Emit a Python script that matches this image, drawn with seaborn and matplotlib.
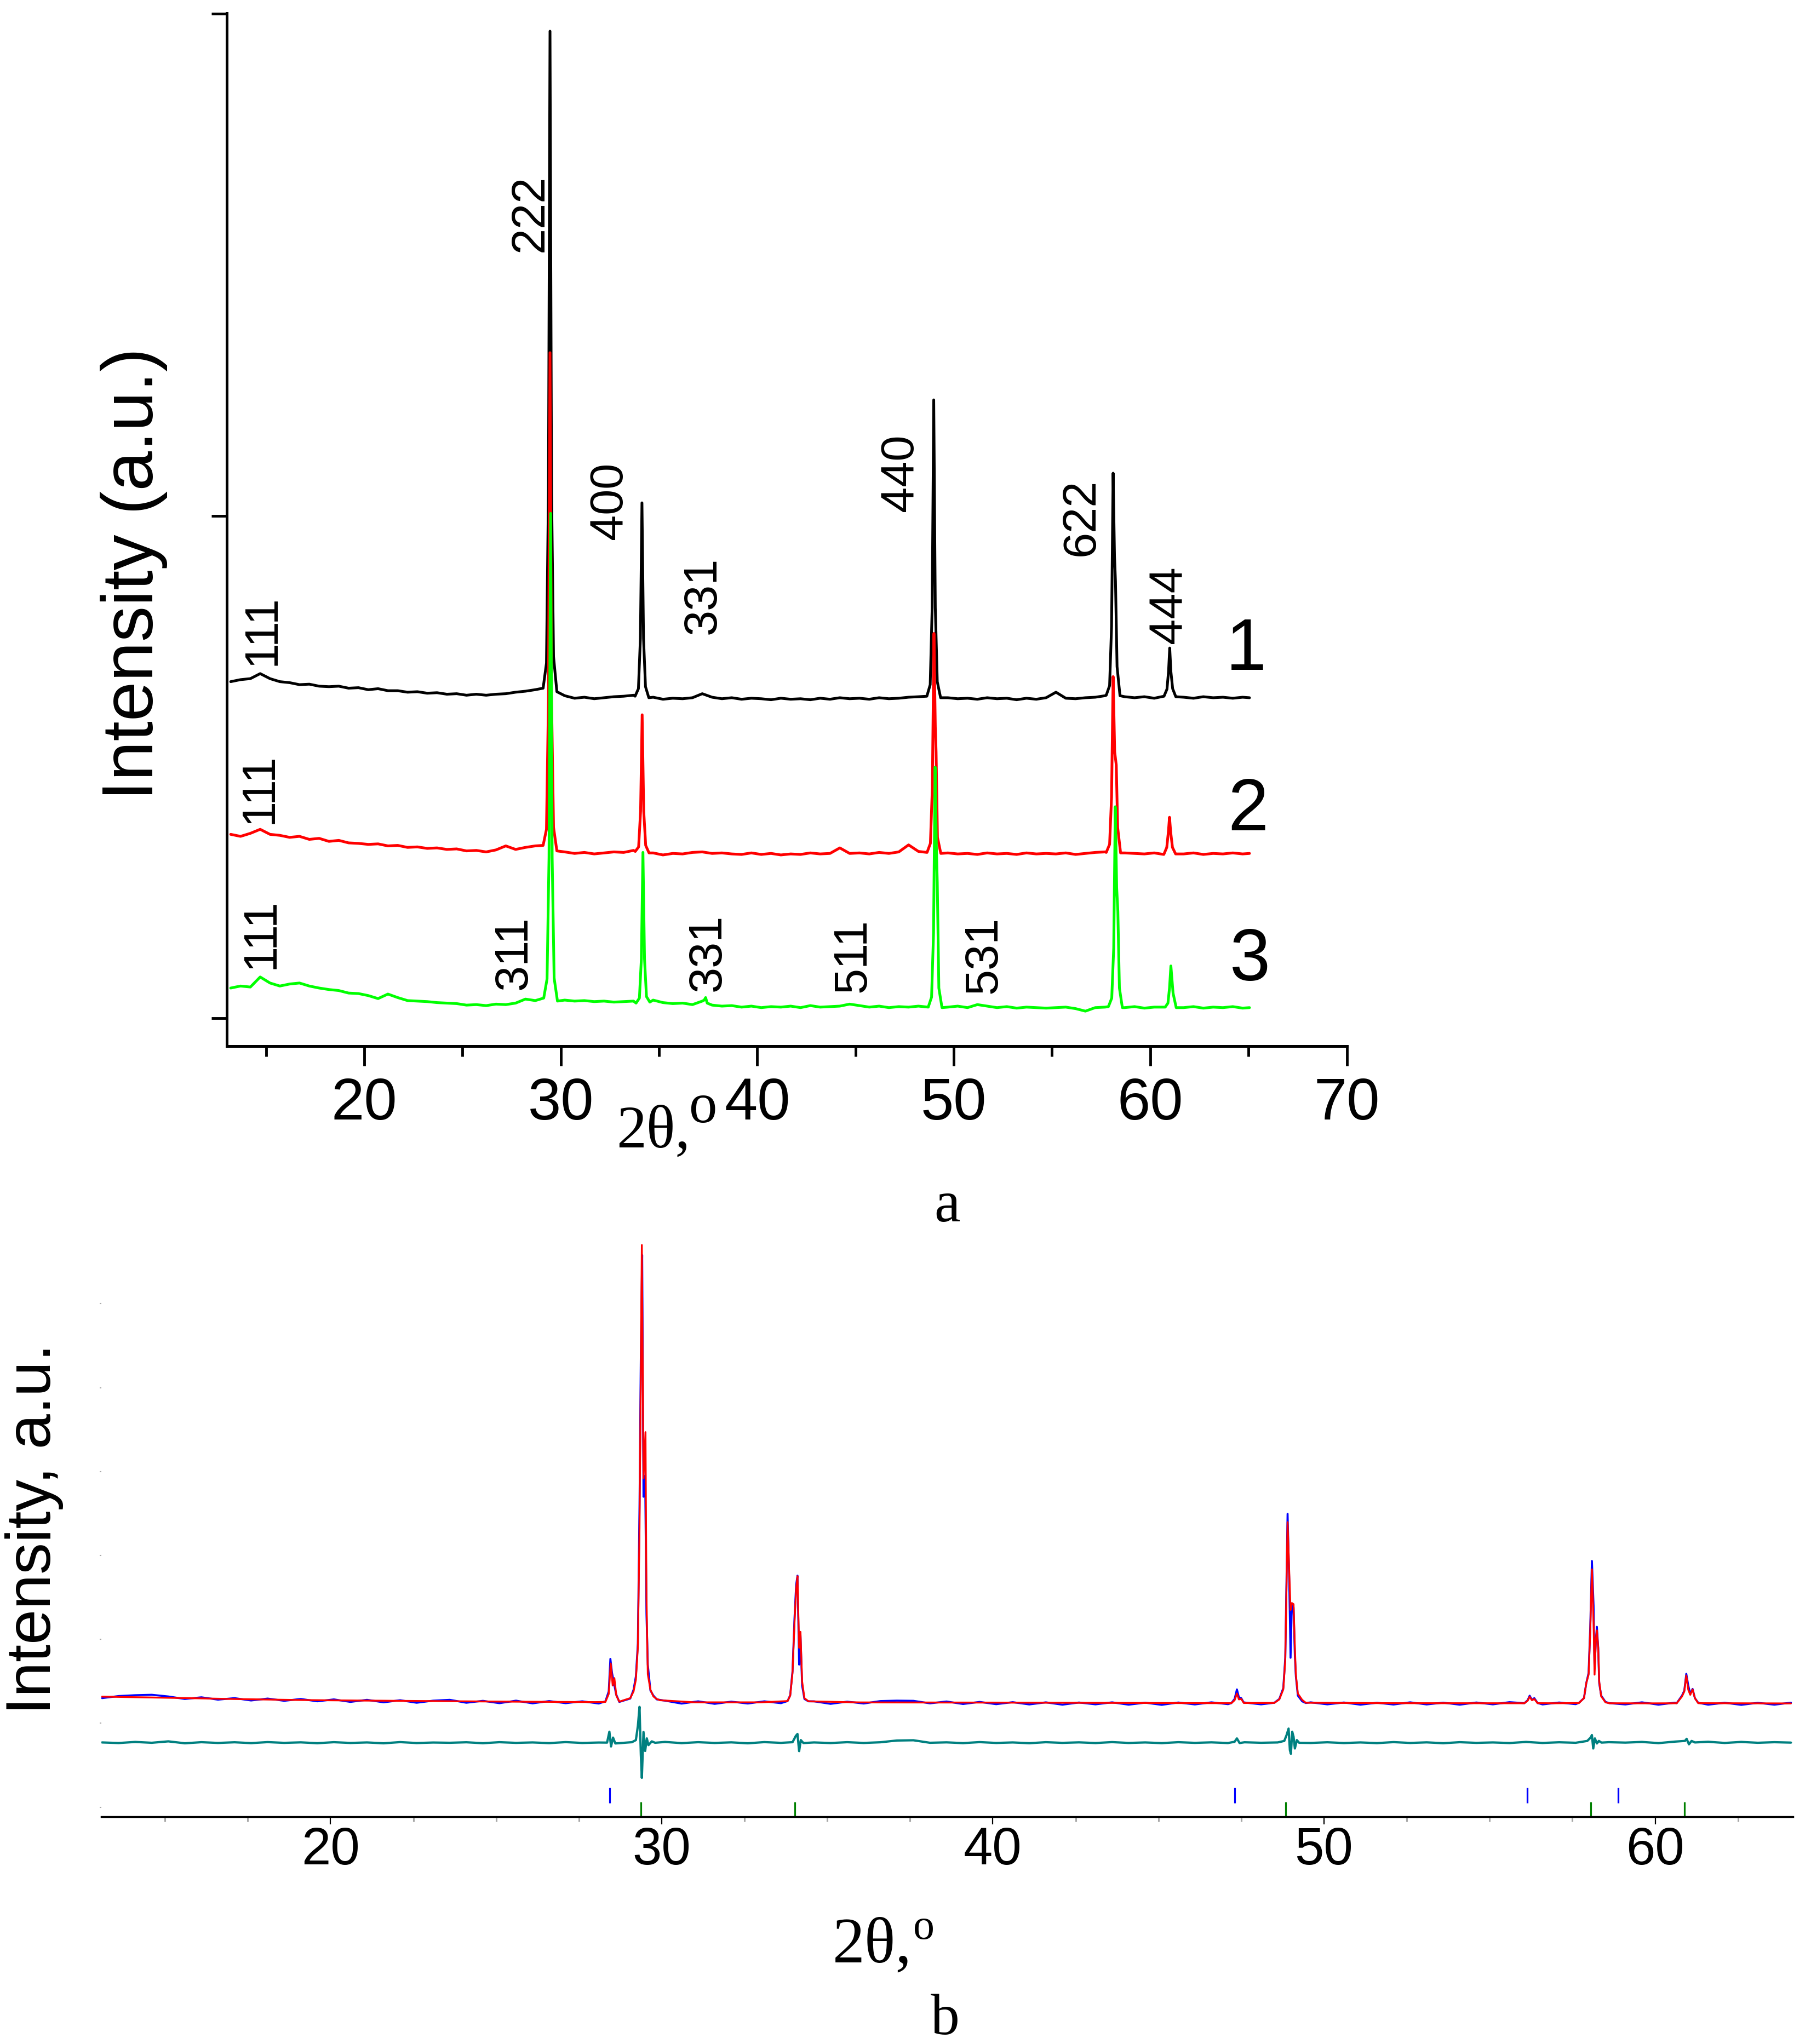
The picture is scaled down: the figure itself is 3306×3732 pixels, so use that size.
import pandas as pd
import matplotlib
matplotlib.use("Agg")
import matplotlib.pyplot as plt
import seaborn as sns

# ---------------- panel a : three stacked XRD patterns ----------------
# common baseline sampling grid (2theta, deg)
grid_a = [13.2, 13.7, 14.2, 14.7, 15.2, 15.7, 16.2, 16.7, 17.2, 17.7,
          18.2, 18.7, 19.2, 19.7, 20.2, 20.7, 21.2, 21.7, 22.2, 22.7,
          23.2, 23.7, 24.2, 24.7, 25.2, 25.7, 26.2, 26.7, 27.2, 27.7,
          28.2, 28.7, 29.2, 29.7, 30.2, 30.7, 31.2, 31.7, 32.2, 32.7,
          33.2, 33.7, 34.2, 34.7, 35.2, 35.7, 36.2, 36.7, 37.2, 37.7,
          38.2, 38.7, 39.2, 39.7, 40.2, 40.7, 41.2, 41.7, 42.2, 42.7,
          43.2, 43.7, 44.2, 44.7, 45.2, 45.7, 46.2, 46.7, 47.2, 47.7,
          48.2, 48.7, 49.2, 49.7, 50.2, 50.7, 51.2, 51.7, 52.2, 52.7,
          53.2, 53.7, 54.2, 54.7, 55.2, 55.7, 56.2, 56.7, 57.2, 57.7,
          58.2, 58.7, 59.2, 59.7, 60.2, 60.7, 61.2, 61.7, 62.2, 62.7,
          63.2, 63.7, 64.2, 64.7, 65.05]

base_1 = [0.670, 0.674, 0.676, 0.686, 0.676, 0.670, 0.668, 0.664, 0.665, 0.661,
          0.660, 0.661, 0.657, 0.658, 0.654, 0.656, 0.652, 0.652, 0.649, 0.650,
          0.647, 0.648, 0.645, 0.646, 0.643, 0.645, 0.643, 0.645, 0.646, 0.649,
          0.651, 0.654, 0.700, 0.700, 0.642, 0.637, 0.639, 0.636, 0.638, 0.640,
          0.641, 0.643, 0.700, 0.639, 0.635, 0.637, 0.636, 0.638, 0.646, 0.639,
          0.636, 0.638, 0.635, 0.637, 0.636, 0.634, 0.637, 0.635, 0.636, 0.634,
          0.637, 0.635, 0.638, 0.636, 0.637, 0.635, 0.638, 0.636, 0.637, 0.639,
          0.640, 0.700, 0.700, 0.638, 0.636, 0.637, 0.635, 0.638, 0.636, 0.637,
          0.634, 0.637, 0.635, 0.638, 0.649, 0.637, 0.636, 0.638, 0.639, 0.642,
          0.700, 0.640, 0.638, 0.640, 0.637, 0.641, 0.640, 0.639, 0.637, 0.640,
          0.638, 0.639, 0.637, 0.639, 0.638]

base_2 = [0.366, 0.362, 0.368, 0.376, 0.366, 0.364, 0.360, 0.362, 0.356, 0.358,
          0.352, 0.354, 0.349, 0.348, 0.346, 0.347, 0.343, 0.344, 0.340, 0.341,
          0.338, 0.339, 0.336, 0.337, 0.333, 0.334, 0.331, 0.335, 0.343, 0.336,
          0.340, 0.343, 0.400, 0.400, 0.331, 0.328, 0.330, 0.327, 0.329, 0.331,
          0.330, 0.334, 0.400, 0.329, 0.325, 0.328, 0.327, 0.330, 0.331, 0.328,
          0.329, 0.327, 0.326, 0.329, 0.326, 0.328, 0.325, 0.327, 0.326, 0.329,
          0.327, 0.328, 0.339, 0.328, 0.329, 0.327, 0.330, 0.328, 0.331, 0.345,
          0.332, 0.400, 0.400, 0.329, 0.327, 0.328, 0.326, 0.329, 0.327, 0.328,
          0.326, 0.329, 0.327, 0.328, 0.327, 0.329, 0.326, 0.328, 0.330, 0.331,
          0.400, 0.329, 0.328, 0.327, 0.329, 0.326, 0.328, 0.327, 0.329, 0.326,
          0.328, 0.327, 0.329, 0.327, 0.328]

base_3 = [0.060, 0.064, 0.062, 0.082, 0.070, 0.064, 0.068, 0.070, 0.064, 0.060,
          0.057, 0.055, 0.050, 0.049, 0.045, 0.039, 0.048, 0.041, 0.035, 0.034,
          0.033, 0.031, 0.030, 0.029, 0.026, 0.027, 0.025, 0.028, 0.027, 0.030,
          0.038, 0.035, 0.100, 0.100, 0.036, 0.034, 0.035, 0.033, 0.034, 0.032,
          0.033, 0.034, 0.100, 0.036, 0.031, 0.029, 0.030, 0.027, 0.034, 0.026,
          0.024, 0.025, 0.022, 0.024, 0.021, 0.023, 0.022, 0.024, 0.021, 0.025,
          0.022, 0.023, 0.024, 0.028, 0.025, 0.022, 0.024, 0.021, 0.023, 0.022,
          0.024, 0.100, 0.100, 0.022, 0.024, 0.021, 0.027, 0.024, 0.021, 0.023,
          0.020, 0.022, 0.021, 0.020, 0.021, 0.022, 0.019, 0.014, 0.021, 0.022,
          0.100, 0.021, 0.023, 0.020, 0.022, 0.022, 0.022, 0.021, 0.023, 0.020,
          0.022, 0.021, 0.023, 0.020, 0.021]

# reflections, (2theta, intensity) points read across each peak
peaks_1 = [
    [(29.10, 0.657), (29.27, 0.707), (29.37, 1.048), (29.45, 1.965), (29.53, 1.048), (29.63, 0.720), (29.80, 0.650)],
    [(33.78, 0.641), (33.95, 0.656), (34.05, 0.756), (34.13, 1.026), (34.21, 0.756), (34.31, 0.660), (34.48, 0.638)],
    [(48.63, 0.641), (48.80, 0.664), (48.90, 0.817), (48.98, 1.231), (49.06, 0.817), (49.16, 0.670), (49.33, 0.638)],
    [(57.76, 0.643), (57.93, 0.662), (58.03, 0.780), (58.11, 1.085), (58.18, 0.920), (58.23, 0.870), (58.31, 0.700), (58.46, 0.642)],
    [(60.70, 0.641), (60.85, 0.655), (60.93, 0.690), (60.99, 0.737), (61.05, 0.690), (61.14, 0.656), (61.30, 0.640)],
]
peaks_2 = [
    [(29.10, 0.344), (29.27, 0.376), (29.37, 0.630), (29.45, 1.325), (29.53, 0.630), (29.63, 0.380), (29.80, 0.333)],
    [(33.79, 0.332), (33.96, 0.341), (34.06, 0.412), (34.14, 0.604), (34.22, 0.412), (34.32, 0.344), (34.49, 0.329)],
    [(48.64, 0.330), (48.81, 0.348), (48.91, 0.460), (48.99, 0.766), (49.06, 0.580), (49.10, 0.530), (49.17, 0.360), (49.34, 0.328)],
    [(57.76, 0.330), (57.93, 0.346), (58.03, 0.440), (58.11, 0.680), (58.19, 0.530), (58.27, 0.504), (58.34, 0.380), (58.49, 0.329)],
    [(60.69, 0.326), (60.84, 0.340), (60.92, 0.370), (60.98, 0.400), (61.04, 0.370), (61.13, 0.340), (61.29, 0.327)],
]
peaks_3 = [
    [(29.13, 0.040), (29.30, 0.078), (29.40, 0.320), (29.48, 1.005), (29.56, 0.320), (29.66, 0.080), (29.83, 0.034)],
    [(33.83, 0.030), (34.00, 0.040), (34.10, 0.118), (34.18, 0.330), (34.26, 0.118), (34.36, 0.043), (34.53, 0.032)],
    [(37.30, 0.036), (37.37, 0.041), (37.45, 0.030)],
    [(48.70, 0.022), (48.87, 0.042), (48.97, 0.170), (49.05, 0.500), (49.12, 0.330), (49.16, 0.270), (49.24, 0.060), (49.40, 0.021)],
    [(57.87, 0.023), (58.04, 0.040), (58.14, 0.140), (58.22, 0.421), (58.29, 0.260), (58.35, 0.213), (58.43, 0.060), (58.58, 0.021)],
    [(60.76, 0.022), (60.90, 0.030), (60.98, 0.060), (61.05, 0.104), (61.10, 0.080), (61.16, 0.050), (61.32, 0.021)],
]

# hkl labels: text, 2theta, height
hkl_labels = [("222", 28.48, 1.603), ("400", 32.49, 1.030), ("440", 47.30, 1.086),
              ("622", 56.50, 0.997), ("444", 60.96, 0.823), ("331", 37.26, 0.841),
              ("111", 14.84, 0.772), ("111", 14.69, 0.457), ("111", 14.77, 0.168),
              ("311", 27.64, 0.130), ("331", 37.50, 0.131), ("511", 44.89, 0.125),
              ("531", 51.54, 0.126)]
curve_labels = [("1", 64.88, 0.731), ("2", 64.97, 0.412), ("3", 65.07, 0.113)]

# ---------------- panel b : Rietveld refinement ----------------
grid_b = [13.1, 13.6, 14.1, 14.6, 15.1, 15.6, 16.1, 16.6, 17.1, 17.6,
          18.1, 18.6, 19.1, 19.6, 20.1, 20.6, 21.1, 21.6, 22.1, 22.6,
          23.1, 23.6, 24.1, 24.6, 25.1, 25.6, 26.1, 26.6, 27.1, 27.6,
          28.1, 28.6, 29.1, 29.6, 30.1, 30.6, 31.1, 31.6, 32.1, 32.6,
          33.1, 33.6, 34.1, 34.6, 35.1, 35.6, 36.1, 36.6, 37.1, 37.6,
          38.1, 38.6, 39.1, 39.6, 40.1, 40.6, 41.1, 41.6, 42.1, 42.6,
          43.1, 43.6, 44.1, 44.6, 45.1, 45.6, 46.1, 46.6, 47.1, 47.6,
          48.1, 48.6, 49.1, 49.6, 50.1, 50.6, 51.1, 51.6, 52.1, 52.6,
          53.1, 53.6, 54.1, 54.6, 55.1, 55.6, 56.1, 56.6, 57.1, 57.6,
          58.1, 58.6, 59.1, 59.6, 60.1, 60.6, 61.1, 61.6, 62.1, 62.6,
          63.1, 63.6, 64.1]

obs_base = [1300, 1325, 1335, 1340, 1320, 1290, 1310, 1282, 1300, 1272,
            1295, 1268, 1290, 1262, 1285, 1255, 1280, 1250, 1275, 1245,
            1270, 1280, 1245, 1268, 1240, 1270, 1238, 1265, 1240, 1262,
            1236, 1260, 1300, 1500, 1270, 1235, 1262, 1232, 1258, 1236,
            1262, 1240, 2700, 1262, 1232, 1258, 1236, 1265, 1270, 1268,
            1238, 1260, 1230, 1255, 1228, 1252, 1225, 1250, 1222, 1248,
            1226, 1250, 1222, 1246, 1220, 1248, 1225, 1250, 1228, 1248,
            1226, 1280, 2000, 1250, 1226, 1248, 1222, 1245, 1224, 1250,
            1225, 1246, 1222, 1248, 1226, 1252, 1270, 1225, 1248, 1228,
            2500, 1245, 1225, 1250, 1222, 1246, 1400, 1222, 1245, 1220,
            1244, 1222, 1246]

diff_base = [772, 765, 778, 768, 785, 762, 775, 766, 774, 764,
             776, 767, 773, 763, 775, 766, 772, 762, 776, 765,
             771, 768, 774, 763, 775, 767, 772, 764, 776, 766,
             771, 770, 770, 770, 778, 764, 775, 766, 773, 762,
             776, 767, 770, 772, 765, 775, 766, 774, 795, 798,
             768, 773, 764, 776, 766, 772, 763, 775, 767, 773,
             765, 776, 766, 772, 764, 775, 767, 773, 765, 774,
             768, 772, 770, 766, 774, 765, 772, 764, 776, 766,
             773, 763, 775, 767, 772, 765, 778, 766, 774, 768,
             770, 775, 770, 778, 764, 782, 770, 780, 766, 778,
             768, 775, 770]

calc_base = [(13.1, 1318), (14.0, 1312), (15.0, 1305), (16.0, 1298), (17.0, 1290),
             (18.0, 1284), (19.0, 1278), (20.0, 1274), (22.0, 1268), (24.0, 1262),
             (26.0, 1257), (28.0, 1253), (31.0, 1250), (33.0, 1250), (36.0, 1249),
             (40.0, 1247), (44.0, 1243), (47.0, 1240), (52.0, 1240), (57.0, 1239),
             (60.0, 1238), (64.1, 1237)]

obs_peaks = [
    [(28.30, 1262), (28.40, 1380), (28.45, 1768), (28.50, 1600), (28.55, 1500), (28.62, 1350), (28.72, 1255)],
    [(29.05, 1295), (29.15, 1400), (29.22, 1560), (29.28, 1950), (29.33, 3600), (29.37, 5400), (29.41, 6580),
     (29.45, 3700), (29.50, 3950), (29.54, 2300), (29.58, 1700), (29.66, 1390), (29.75, 1330), (29.85, 1285)],
    [(33.80, 1265), (33.88, 1335), (33.95, 1620), (34.01, 2250), (34.06, 2650), (34.10, 2760), (34.15, 1700),
     (34.19, 2050), (34.24, 1450), (34.31, 1290), (34.43, 1262)],
    [(47.20, 1240), (47.30, 1290), (47.37, 1404), (47.43, 1310), (47.50, 1300), (47.58, 1245)],
    [(48.50, 1245), (48.65, 1290), (48.77, 1420), (48.83, 1780), (48.90, 3497), (48.95, 2700), (48.99, 1781),
     (49.03, 2430), (49.08, 2380), (49.12, 1800), (49.15, 1560), (49.21, 1330), (49.34, 1262), (49.45, 1242)],
    [(56.05, 1240), (56.15, 1275), (56.21, 1329), (56.28, 1280), (56.35, 1300), (56.45, 1242)],
    [(57.70, 1245), (57.85, 1300), (57.92, 1480), (57.99, 1600), (58.04, 2150), (58.09, 2935), (58.14, 2400),
     (58.17, 1650), (58.21, 2000), (58.24, 2150), (58.28, 1900), (58.31, 1480), (58.37, 1330), (58.50, 1255),
     (58.62, 1240)],
    [(60.65, 1240), (60.81, 1330), (60.88, 1390), (60.94, 1590), (61.00, 1450), (61.06, 1350), (61.13, 1410),
     (61.20, 1300), (61.30, 1245)],
]
calc_peaks = [
    [(28.30, 1255), (28.40, 1350), (28.46, 1713), (28.52, 1450), (28.57, 1539), (28.63, 1330), (28.72, 1258)],
    [(29.05, 1300), (29.15, 1380), (29.22, 1520), (29.28, 1906), (29.33, 3330), (29.37, 5200), (29.40, 6700),
     (29.45, 3920), (29.51, 4470), (29.54, 2500), (29.58, 1585), (29.66, 1400), (29.75, 1320), (29.85, 1290),
     (29.95, 1275)],
    [(33.80, 1265), (33.88, 1330), (33.95, 1600), (34.01, 2200), (34.06, 2600), (34.10, 2753), (34.15, 1900),
     (34.19, 2090), (34.24, 1500), (34.31, 1300), (34.43, 1262)],
    [(47.20, 1240), (47.30, 1275), (47.37, 1355), (47.43, 1285), (47.50, 1290), (47.58, 1242)],
    [(48.50, 1243), (48.65, 1285), (48.77, 1404), (48.83, 1750), (48.90, 3397), (48.95, 2800), (48.99, 2350),
     (49.03, 2433), (49.08, 2420), (49.12, 1900), (49.15, 1580), (49.21, 1354), (49.34, 1279), (49.45, 1245)],
    [(56.05, 1239), (56.15, 1270), (56.21, 1317), (56.28, 1275), (56.35, 1290), (56.45, 1240)],
    [(57.70, 1242), (57.85, 1300), (57.92, 1479), (57.99, 1580), (58.04, 2100), (58.09, 2835), (58.14, 2200),
     (58.17, 1580), (58.21, 2000), (58.24, 2107), (58.28, 1900), (58.31, 1500), (58.37, 1322), (58.50, 1250),
     (58.62, 1239)],
    [(60.65, 1239), (60.81, 1320), (60.88, 1380), (60.94, 1570), (61.00, 1400), (61.06, 1340), (61.13, 1404),
     (61.20, 1300), (61.30, 1240)],
]
diff_peaks = [
    [(28.35, 770), (28.42, 900), (28.47, 724), (28.53, 830), (28.60, 760)],
    [(29.10, 775), (29.22, 800), (29.28, 967), (29.33, 1196), (29.37, 624), (29.40, 350), (29.45, 897),
     (29.50, 670), (29.55, 820), (29.60, 740), (29.70, 785), (29.80, 768)],
    [(33.95, 775), (34.05, 850), (34.10, 873), (34.15, 668), (34.20, 800), (34.28, 765)],
    [(47.30, 780), (47.37, 820), (47.45, 765)],
    [(48.80, 790), (48.87, 860), (48.93, 937), (48.97, 680), (49.00, 637), (49.04, 900), (49.08, 840),
     (49.12, 700), (49.18, 800), (49.25, 768)],
    [(57.95, 790), (58.05, 830), (58.09, 860), (58.13, 700), (58.18, 820), (58.24, 760), (58.30, 790),
     (58.38, 770)],
    [(60.90, 790), (60.95, 815), (61.02, 750), (61.10, 790), (61.20, 772)],
]

# Bragg position markers
si_pos = [28.43, 47.30, 56.14, 58.88]
main_pos = [29.37, 34.02, 48.85, 58.05, 60.88]


def build_pattern(xs, ys, peak_sets):
    pts = list(zip(xs, ys))
    for pk in peak_sets:
        lo, hi = pk[0][0], pk[-1][0]
        pts = [p for p in pts if not (lo <= p[0] <= hi)]
        pts += list(pk)
    pts.sort()
    return pd.DataFrame(pts, columns=["two_theta", "intensity"])


sns.set_theme(style="ticks")
plt.rcParams["font.family"] = ["Liberation Sans", "DejaVu Sans"]
SERIF = ["Liberation Serif", "DejaVu Serif"]

W, H = 3306, 3732
fig = plt.figure(figsize=(W / 100, H / 100), dpi=100)
fig.patch.set_facecolor("white")

# ---- panel a
ax = fig.add_axes([414 / W, 1 - 1910 / H, (2458.5 - 414) / W, (1910 - 24) / H])
ax.set_facecolor("white")
for ys, pk, col in [(base_1, peaks_1, "black"), (base_2, peaks_2, "#ff0000"), (base_3, peaks_3, "#00ff00")]:
    df = build_pattern(grid_a, ys, pk)
    sns.lineplot(data=df, x="two_theta", y="intensity", ax=ax, color=col, lw=3.6,
                 estimator=None, sort=False)

ax.set_xlim(13.0, 70.0)
ax.set_ylim(-0.0556, 2.001)
ax.set_xticks([20, 30, 40, 50, 60, 70])
ax.set_xticks([15, 25, 35, 45, 55, 65], minor=True)
ax.set_yticks([0, 1, 2])
ax.set_xlabel("")
ax.set_ylabel("")
sns.despine(ax=ax)
for s in ["left", "bottom"]:
    ax.spines[s].set_linewidth(3.6)
    ax.spines[s].set_color("black")
ax.tick_params(axis="x", which="major", direction="out", length=26, width=3.5,
               pad=14, labelsize=78, color="black", labelcolor="black")
ax.tick_params(axis="x", which="minor", direction="out", length=14, width=3.5, color="black")
ax.tick_params(axis="y", which="major", direction="out", length=20, width=3.5,
               color="black", labelleft=False)

for txt, x, y in hkl_labels:
    ax.text(x, y, txt, rotation=90, ha="center", va="center", fontsize=61, color="black")
for txt, x, y in curve_labels:
    ax.text(x, y, txt, ha="center", va="center", fontsize=96, color="black")

fig.text(0.074, 1 - 1048 / H, "Intensity (a.u.)", rotation=90, ha="center", va="center",
         fontsize=94, color="black")
fig.text(1125 / W, 1 - 2095 / H, "2θ,", ha="left", va="baseline", fontsize=79,
         family=SERIF, color="black")
fig.text(1257 / W, 1 - 2049 / H, "o", ha="left", va="baseline", fontsize=74,
         family=SERIF, color="black")
fig.text(1729 / W, 1 - 2230 / H, "a", ha="center", va="baseline", fontsize=77,
         family=SERIF, color="black")

# ---- panel b
bx = fig.add_axes([184.5 / W, 1 - 3317 / H, (3273 - 184.5) / W, (3317 - 2262) / H])
bx.set_facecolor("white")
obs = build_pattern(grid_b, obs_base, obs_peaks)
calc = build_pattern([p[0] for p in calc_base], [p[1] for p in calc_base], calc_peaks)
diff = build_pattern(grid_b, diff_base, diff_peaks)
sns.lineplot(data=obs, x="two_theta", y="intensity", ax=bx, color="#0000ff", lw=2.6,
             estimator=None, sort=False)
sns.lineplot(data=calc, x="two_theta", y="intensity", ax=bx, color="#ff0000", lw=2.4,
             estimator=None, sort=False)
sns.lineplot(data=diff, x="two_theta", y="intensity", ax=bx, color="#008080", lw=3.0,
             estimator=None, sort=False)
bx.vlines(si_pos, 48, 234, color="#0000ff", lw=2.3)
bx.vlines(main_pos, -113, 64, color="#008000", lw=2.3)

bx.set_xlim(13.07, 64.16)
bx.set_ylim(-113, 6773)
bx.set_xticks([20, 30, 40, 50, 60])
bx.set_xticks([15, 17.5, 22.5, 25, 27.5, 32.5, 35, 37.5, 42.5, 45, 47.5,
               52.5, 55, 57.5, 62.5], minor=True)
bx.set_yticks([0, 1000, 2000, 3000, 4000, 5000, 6000])
bx.set_xlabel("")
bx.set_ylabel("")
for s in ["left", "top", "right"]:
    bx.spines[s].set_visible(False)
bx.spines["bottom"].set_linewidth(2.5)
bx.spines["bottom"].set_color("black")
bx.tick_params(axis="x", which="major", direction="out", length=10, width=1.6,
               color="black", pad=2, labelsize=69, labelcolor="black")
bx.tick_params(axis="x", which="minor", direction="out", length=6.5, width=2.2, color="#a8a8a8")
bx.tick_params(axis="y", which="major", direction="out", length=2.5, width=1.5,
               color="#a8a8a8", labelleft=False)

fig.text(0.0188, 1 - 2791 / H, "Intensity, a.u.", rotation=90, ha="center", va="center",
         fontsize=83, color="black")
fig.text(1520 / W, 1 - 3582 / H, "2θ,", ha="left", va="baseline", fontsize=85,
         family=SERIF, color="black")
fig.text(1667 / W, 1 - 3540 / H, "o", ha="left", va="baseline", fontsize=56,
         family=SERIF, color="black")
fig.text(1725 / W, 1 - 3714 / H, "b", ha="center", va="baseline", fontsize=76,
         family=SERIF, color="black")

fig.savefig("out.png", dpi=100, facecolor="white")
plt.close(fig)
